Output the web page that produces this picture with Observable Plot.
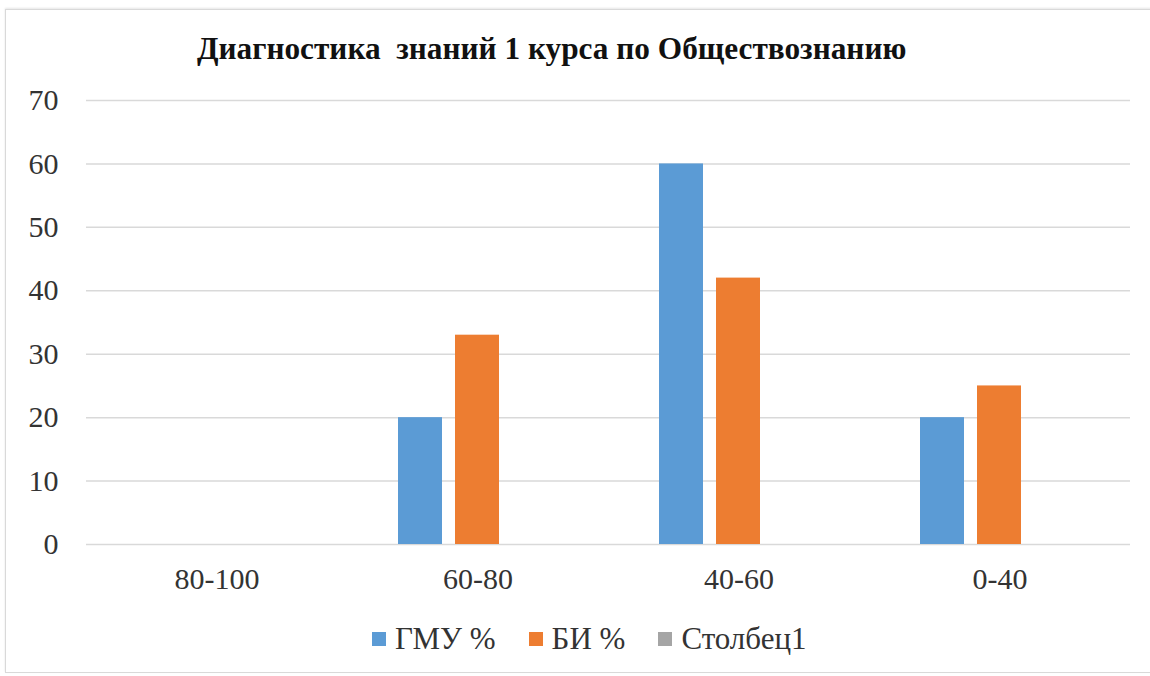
<!DOCTYPE html>
<html>
<head>
<meta charset="utf-8">
<script src="https://cdn.jsdelivr.net/npm/d3@7"></script>
<script src="https://cdn.jsdelivr.net/npm/@observablehq/plot@0.6"></script>
<style>
  html, body { margin: 0; padding: 0; background: #fff; }
  #wrap { position: relative; width: 1150px; height: 676px; overflow: hidden; font-family: "Liberation Serif", "Times New Roman", serif; }
  #frame { position: absolute; left: 5px; top: 9px; width: 1160px; height: 662px; border: 1px solid #d9d9d9; box-shadow: 0 -1px 2px #e6e6e6; }
  #title { position: absolute; left: 197px; top: 31px; font-size: 31.3px; font-weight: bold; color: #111; white-space: pre; }
  #chart { position: absolute; left: 0; top: 0; }
  #legend { position: absolute; left: 372px; top: 621px; display: flex; align-items: center; font-size: 31px; color: #333; white-space: pre; }
  .item { display: flex; align-items: center; margin-right: 33px; }
  .sw { width: 14px; height: 14px; margin-right: 9px; }
</style>
</head>
<body>
<div id="wrap">
  <div id="frame"></div>
  <div id="chart"></div>
  <div id="title"></div>
  <div id="legend"></div>
</div>
<script>
const titleText = "Диагностика  знаний 1 курса по Обществознанию";
const categories = ["80-100", "60-80", "40-60", "0-40"];
const series = ["ГМУ %", "БИ %", "Столбец1"];
const gmuValues = [0, 20, 60, 20];
const biValues = [0, 33, 42, 25];
const col1Values = [0, 0, 0, 0];
const colors = ["#5B9BD5", "#ED7D31", "#A5A5A5"];
const yTicks = [0, 10, 20, 30, 40, 50, 60, 70];

const seriesValues = [gmuValues, biValues, col1Values];
const data = [];
categories.forEach((c, i) => {
  series.forEach((s, j) => {
    data.push({category: c, series: s, value: seriesValues[j][i]});
  });
});

document.getElementById("title").textContent = titleText;

const chart = Plot.plot({
  width: 1150,
  height: 610,
  marginLeft: 85,
  marginRight: 19,
  marginTop: 100,
  marginBottom: 66,
  style: {fontFamily: "'Liberation Serif', 'Times New Roman', serif", fontSize: "30px", color: "#333", background: "transparent"},
  fx: {domain: categories, padding: 0, label: null, axis: "bottom", tickSize: 0, tickPadding: 23},
  x: {domain: series, axis: null, paddingInner: 0.224, paddingOuter: 0.866},
  y: {domain: [0, 70], ticks: yTicks, label: null, tickSize: 0, tickPadding: 28, tickFormat: d => String(d)},
  color: {domain: series, range: colors},
  marks: [
    Plot.ruleY(yTicks, {stroke: "#d9d9d9", strokeWidth: 1.5}),
    Plot.barY(data, {fx: "category", x: "series", y: "value", fill: "series"})
  ]
});
document.getElementById("chart").appendChild(chart);

const legend = document.getElementById("legend");
series.forEach((s, j) => {
  const item = document.createElement("div");
  item.className = "item";
  const sw = document.createElement("span");
  sw.className = "sw";
  sw.style.background = colors[j];
  const t = document.createElement("span");
  t.textContent = s;
  item.appendChild(sw);
  item.appendChild(t);
  legend.appendChild(item);
});
</script>
</body>
</html>
